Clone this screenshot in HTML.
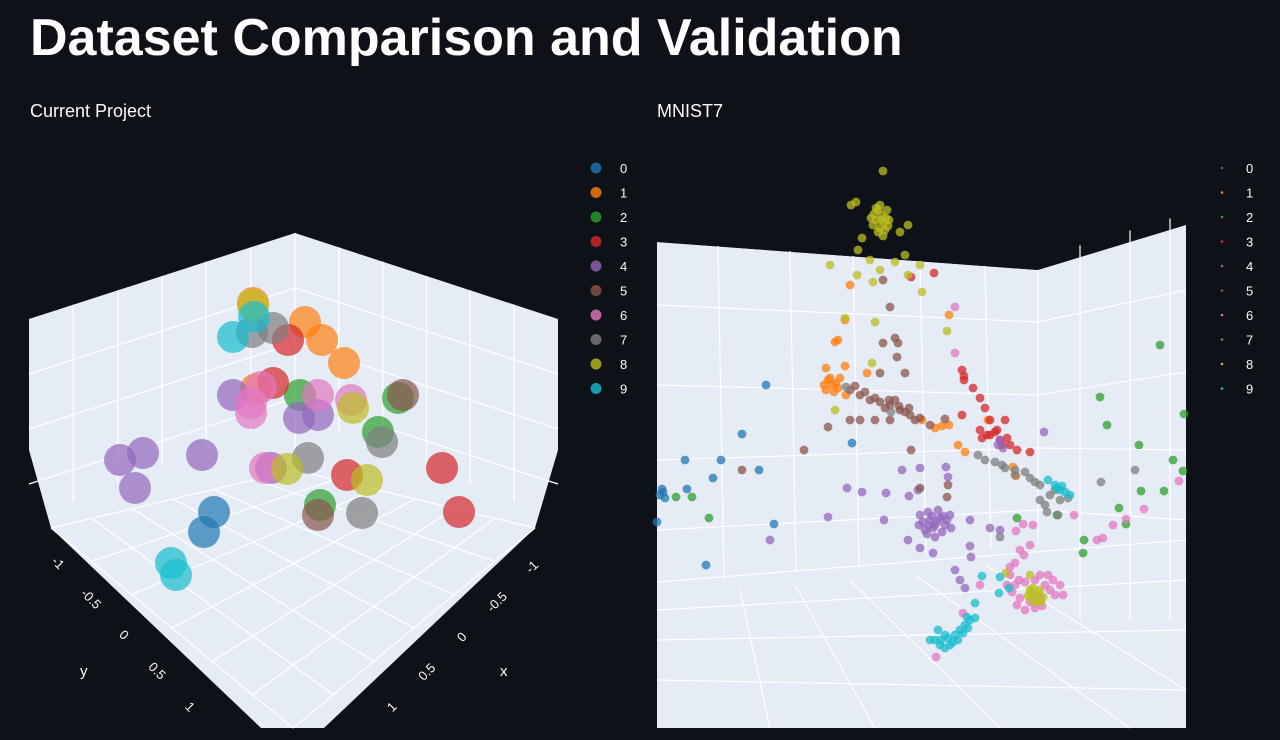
<!DOCTYPE html>
<html><head><meta charset="utf-8">
<style>
html,body{margin:0;padding:0;background:#0e1117;width:1280px;height:740px;overflow:hidden;font-family:"Liberation Sans",sans-serif;}
#title{position:absolute;left:30px;top:8px;color:#fff;font-weight:bold;font-size:52px;letter-spacing:0px;white-space:nowrap;}
.sub{position:absolute;top:101px;color:#fafafa;font-size:18px;white-space:nowrap;}
svg{position:absolute;left:0;top:0;}
</style></head>
<body>
<div id="title">Dataset Comparison and Validation</div>
<div class="sub" style="left:30px">Current Project</div>
<div class="sub" style="left:657px">MNIST7</div>
<svg id="svg" width="1280" height="740"></svg>
<script>
const classes=['0','1','2','3','4','5','6','7','8','9'];
const colors=['#1f77b4','#ff7f0e','#2ca02c','#d62728','#9467bd','#8c564b','#e377c2','#7f7f7f','#bcbd22','#17becf'];
// Left chart: projected coordinates [u,v] per class (plot units)
const leftData={
'0':[[185,279],[175,299]],
'1':[[224,70],[276,89],[293,107],[315,130],[227,156]],
'2':[[271,162],[369,165],[349,199],[291,272]],
'3':[[259,107],[244,150],[318,242],[413,235],[430,279]],
'4':[[204,162],[270,185],[289,182],[91,227],[114,220],[106,255],[173,222],[242,235]],
'5':[[374,162],[289,282]],
'6':[[232,154],[222,170],[222,180],[289,162],[322,167],[236,235]],
'7':[[223,99],[244,95],[353,209],[279,225],[333,280]],
'8':[[224,72],[324,175],[258,236],[338,247]],
'9':[[225,84],[204,104],[142,330],[147,342]]
};
// Right chart: projected coordinates [u,v] per class (plot units)
const rightData={
'0':[[109,235],[85,284],[28,310],[64,310],[102,320],[56,328],[5,339],[3,345],[8,348],[0,372],[117,374],[49,415],[195,293],[30,339],[6,342]],
'1':[[171,230],[175,235],[179,233],[169,240],[183,228],[177,242],[189,245],[173,228],[167,235],[181,238],[193,135],[188,170],[181,190],[178,192],[169,218],[188,216],[210,223],[292,275],[278,278],[301,295],[308,302],[356,317],[359,326],[292,165],[331,270],[285,276],[265,270]],
'2':[[503,195],[443,247],[450,275],[482,295],[527,264],[516,310],[526,321],[507,341],[484,341],[462,358],[469,374],[427,390],[426,403],[400,365],[52,368],[19,347],[35,347],[360,368]],
'3':[[305,220],[307,226],[307,230],[316,238],[323,248],[328,258],[305,265],[333,270],[323,280],[333,285],[343,290],[353,295],[338,282],[360,300],[373,302],[348,270],[254,127],[277,123],[330,285],[340,280],[345,295],[325,288],[350,288]],
'4':[[263,365],[273,370],[283,368],[278,375],[268,380],[288,375],[293,365],[281,360],[271,362],[285,382],[276,378],[290,370],[266,372],[272,376],[280,372],[286,366],[275,366],[270,384],[294,378],[262,375],[341,295],[343,290],[346,298],[245,320],[263,318],[289,317],[291,327],[261,340],[190,338],[205,342],[229,343],[252,346],[171,367],[227,370],[313,370],[333,378],[251,390],[278,387],[313,396],[343,380],[387,282],[263,398],[276,403],[314,407],[298,420],[113,390],[303,430],[308,438]],
'5':[[193,240],[203,245],[213,250],[223,252],[233,255],[243,260],[253,265],[263,268],[273,275],[238,250],[218,248],[248,262],[228,258],[258,270],[208,242],[198,236],[232,250],[242,256],[252,258],[226,130],[233,157],[238,188],[241,193],[226,193],[240,207],[223,223],[248,223],[193,270],[203,270],[218,270],[233,270],[171,277],[147,300],[85,320],[254,300],[288,269],[291,335],[290,347],[263,338]],
'6':[[358,435],[368,432],[378,430],[388,435],[393,440],[383,448],[373,452],[363,448],[355,442],[391,425],[398,445],[368,460],[378,458],[353,425],[403,435],[362,430],[396,430],[360,455],[385,456],[350,435],[406,445],[298,157],[298,203],[366,374],[376,375],[363,400],[358,413],[353,417],[383,425],[417,365],[440,390],[446,388],[456,375],[469,369],[487,359],[522,331],[306,463],[279,507],[323,435],[367,405],[359,381],[373,395]],
'7':[[321,305],[328,310],[338,312],[348,318],[358,325],[373,328],[383,335],[393,345],[398,340],[383,350],[388,355],[403,350],[358,320],[368,322],[378,332],[189,237],[234,262],[345,315],[411,348],[444,332],[390,362],[343,387],[478,320],[401,365]],
'8':[[221,60],[225,65],[219,70],[227,72],[223,78],[229,68],[217,64],[223,55],[231,76],[221,82],[226,86],[216,75],[230,60],[219,58],[228,80],[224,70],[214,68],[232,70],[226,21],[194,55],[199,52],[205,88],[201,100],[213,110],[243,82],[251,75],[248,105],[263,115],[223,120],[238,112],[173,115],[200,125],[216,132],[251,125],[265,142],[188,168],[218,172],[215,213],[290,181],[373,440],[378,445],[383,440],[375,450],[381,450],[371,446],[386,447],[376,438],[380,443],[373,443],[384,452],[378,452],[373,425],[349,423],[178,260]],
'9':[[398,335],[403,340],[408,342],[413,345],[405,336],[391,330],[400,338],[278,490],[283,495],[288,498],[293,495],[298,485],[303,480],[308,475],[313,470],[318,468],[291,488],[301,490],[311,478],[281,480],[288,485],[273,490],[284,490],[296,492],[306,483],[310,467],[318,453],[325,426],[343,427],[342,443],[352,438]]
};
const svg=document.getElementById('svg');
const NS='http://www.w3.org/2000/svg';
function mk(tag,attrs,parent){const e=document.createElementNS(NS,tag);for(const k in attrs)e.setAttribute(k,attrs[k]);(parent||svg).appendChild(e);return e;}
const lx=u=>29+u, ly=v=>233+v;
const rx=u=>657+u, ry=v=>150+v;

// ---- Left scene ----
const gL=mk('g',{});


mk('polygon',{points:'29,319 295,233 558,319 558,450 535,528 324,728 261,728 51,528 29,450',fill:'#e5ecf6'},gL);
const gridL='stroke:#fff;stroke-width:1.3;fill:none';
for(let i=1;i<6;i++){const t=i/6;const x=29+t*266,y=319-t*86;mk('line',{x1:x,y1:y,x2:x,y2:y+200-t*20,style:gridL},gL);
 const x2=295+t*263,y2=233+t*86;mk('line',{x1:x2,y1:y2,x2:x2,y2:y2+200-(1-t)*20,style:gridL},gL);}
mk('line',{x1:295,y1:233,x2:295,y2:470,style:gridL},gL);
for(let j=1;j<4;j++){const d=j*55;mk('polyline',{points:`29,${319+d} 295,${233+d} 558,${319+d}`,style:gridL},gL);}
for(let i=0;i<=6;i++){const t=i/6;
 mk('line',{x1:51+t*244,y1:528-t*58,x2:293+t*242,y2:728-t*200,style:gridL},gL);
 mk('line',{x1:535-t*240,y1:528-t*58,x2:293-t*242,y2:728-t*200,style:gridL},gL);}
const ylab=['-1','-0.5','0','0.5','1'],xlab=['-1','-0.5','0','0.5','1'];
ylab.forEach((s,i)=>{const t=mk('text',{x:55+i*33,y:566+i*36,fill:'#fafafa','font-size':13,'text-anchor':'middle',transform:`rotate(45 ${55+i*33} ${566+i*36})`},gL);t.textContent=s;});
xlab.forEach((s,i)=>{const t=mk('text',{x:535-i*35,y:570+i*35,fill:'#fafafa','font-size':13,'text-anchor':'middle',transform:`rotate(-45 ${535-i*35} ${570+i*35})`},gL);t.textContent=s;});
let at=mk('text',{x:80,y:676,fill:'#fafafa','font-size':15},gL);at.textContent='y';
at=mk('text',{x:500,y:676,fill:'#fafafa','font-size':15},gL);at.textContent='x';
classes.forEach((c,k)=>{leftData[c].forEach(p=>{const e=mk('circle',{cx:lx(p[0]),cy:ly(p[1]),r:16,fill:colors[k],'fill-opacity':0.7},gL);
 });});

// ---- Right scene ----
const gR=mk('g',{});


mk('polygon',{points:'657,242 1038,270 1186,225 1186,728 657,728',fill:'#e5ecf6'},gR);
mk('polygon',{points:'657,180 1038,180 1038,270 657,242',fill:'#0e1117'},gR);
const gridR='stroke:#fff;stroke-width:1.2;fill:none';
[[657,305,1038,322,1186,290],[657,385,1038,395,1186,372],[657,460,1038,448,1186,450],[657,530,1038,510,1186,520]].forEach(a=>mk('polyline',{points:`${a[0]},${a[1]} ${a[2]},${a[3]} ${a[4]},${a[5]}`,style:gridR},gR));
[718,790,853,920,985].forEach((x,i)=>mk('line',{x1:x,y1:246+i*5,x2:x+6,y2:580-i*8,style:gridR},gR));
mk('line',{x1:1038,y1:270,x2:1038,y2:545,style:gridR},gR);
[1080,1130,1170].forEach(x=>mk('line',{x1:x,y1:258-(x-1038)*0.3,x2:x,y2:620,style:gridR},gR));
[[657,582,1186,540],[657,610,1186,580],[657,640,1186,630],[657,680,1186,690]].forEach(a=>mk('line',{x1:a[0],y1:a[1],x2:a[2],y2:a[3],style:gridR},gR));
[[740,590,770,728],[795,585,875,728],[850,580,1000,728],[915,575,1130,728],[985,565,1186,690]].forEach(a=>mk('line',{x1:a[0],y1:a[1],x2:a[2],y2:a[3],style:gridR},gR));
classes.forEach((c,k)=>{rightData[c].forEach(p=>{const e=mk('circle',{cx:rx(p[0]),cy:ry(p[1]),r:4.4,fill:colors[k],'fill-opacity':0.75},gR);
 });});

// ---- Legends ----
classes.forEach((c,k)=>{const y=168+k*24.5;
 const g1=mk('g',{});
 
 
 mk('circle',{cx:596,cy:y,r:5.5,fill:colors[k],'fill-opacity':0.8},g1);
 let t=mk('text',{x:620,y:y+5,fill:'#fafafa','font-size':13},g1);t.textContent=c;
 const g2=mk('g',{});
 
 
 mk('circle',{cx:1222,cy:y,r:1.3,fill:colors[k]},g2);
 t=mk('text',{x:1246,y:y+5,fill:'#fafafa','font-size':13},g2);t.textContent=c;
});
</script>
</body></html>
